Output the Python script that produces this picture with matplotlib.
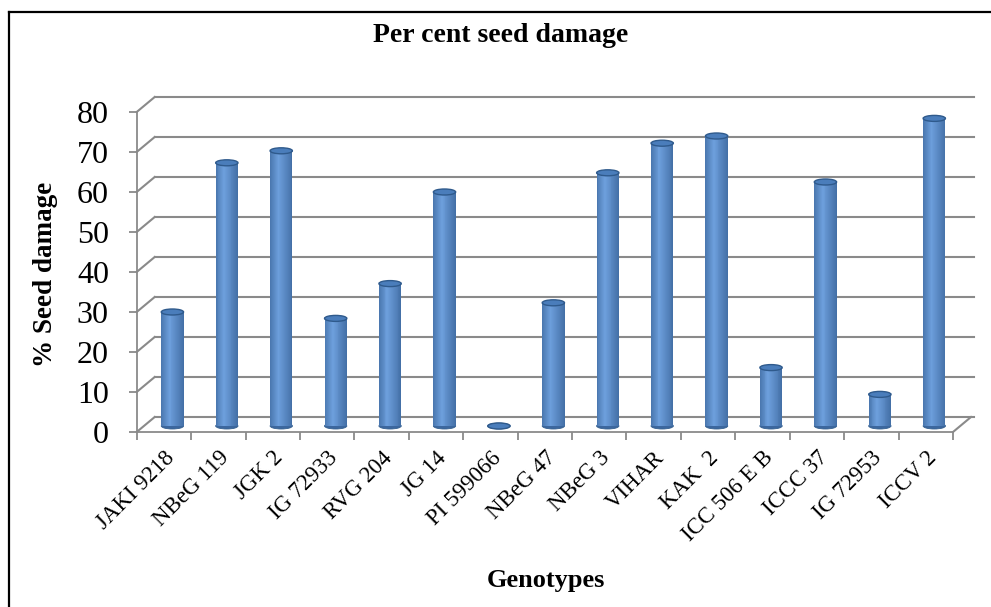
import numpy as np
import matplotlib
matplotlib.use('Agg')
import matplotlib.pyplot as plt
from matplotlib.patches import Ellipse
from matplotlib.lines import Line2D
from matplotlib.transforms import offset_copy

plt.rcParams['font.family'] = ['Liberation Serif', 'DejaVu Serif']

genotypes = ['JAKI 9218', 'NBeG 119', 'JGK 2', 'IG 72933', 'RVG 204', 'JG 14',
             'PI 599066', 'NBeG 47', 'NBeG 3', 'VIHAR', 'KAK  2', 'ICC 506 E B',
             'ICCC 37', 'IG 72953', 'ICCV 2']
damage = [28.5, 65.8, 68.8, 26.9, 35.6, 58.5, 0.0, 30.8, 63.3, 70.7, 72.5,
          14.6, 61.0, 7.9, 76.9]
yticks = list(range(0, 90, 10))

grid_col = '#8a8a8a'
W, H = 991, 607
fig = plt.figure(figsize=(W / 100, H / 100), dpi=100)
ax = fig.add_axes([136.7 / W, 1 - 432 / H, (953 - 136.7) / W, (432 - 112) / H])
n = len(genotypes)
ax.set_xlim(-0.5, n - 0.5)
ax.set_ylim(0, 80)
ax.patch.set_visible(False)
for s in ['top', 'right']:
    ax.spines[s].set_visible(False)
for s in ['left', 'bottom']:
    ax.spines[s].set_color(grid_col)
    ax.spines[s].set_linewidth(1.3)

# depth offsets (pixels) for back wall and bars
dx, dy = 18, 15
back = offset_copy(ax.transData, fig=fig, x=dx, y=dy, units='dots')
mid = offset_copy(ax.transData, fig=fig, x=8.5, y=6, units='dots')
px_x = (953 - 136.7) / n
px_y = 320 / 80.0

# back wall grid + left wall diagonals
for v in yticks:
    ax.plot([-0.5, n - 0.5 + 0.05], [v, v], color=grid_col, lw=1.5, transform=back,
            clip_on=False, zorder=1)
    ax.plot([-0.5, -0.5 + dx / px_x], [v, v + dy / px_y], color=grid_col, lw=1.5,
            clip_on=False, zorder=1)
# floor right edge
ax.plot([n - 0.5, n - 0.5 + dx / px_x], [0, dy / px_y], color=grid_col, lw=1.5,
        clip_on=False, zorder=1)

# cylinders
bw = 0.41
nstrip = 24
shade = np.concatenate([np.linspace(0.5, 1.0, 9), np.linspace(1.0, 0.4, nstrip - 9)])
light = np.array([0x6C, 0x9E, 0xDB]) / 255.0
dark = np.array([0x2A, 0x52, 0x85]) / 255.0
for i, v in enumerate(damage):
    eh = 6 / px_y
    ax.add_patch(Ellipse((i, 0), bw, eh, transform=mid, facecolor='#3C679E',
                         edgecolor='#35608F', lw=0.6, zorder=2, clip_on=False))
    if v > 0:
        for k in range(nstrip):
            col = dark + (light - dark) * shade[k]
            x0 = i - bw / 2 + k * bw / nstrip
            ax.bar(x0, v, width=bw / nstrip * 1.05, align='edge', color=col,
                   linewidth=0, transform=mid, zorder=3, clip_on=False)
    ax.add_patch(Ellipse((i, v), bw, eh, transform=mid, facecolor='#4A7DBB',
                         edgecolor='#2F5A8C', lw=1.0, zorder=4, clip_on=False))

# axes ticks
ax.set_yticks(yticks)
ax.tick_params(axis='y', length=6, width=1.3, color=grid_col, pad=14,
               labelsize=23, labelcolor='black')
ax.set_xticks(np.arange(n + 1) - 0.5)
ax.set_xticklabels([])
ax.tick_params(axis='x', which='major', length=6, width=1.3, color=grid_col)
ax.set_xticks(np.arange(n), minor=True)
ax.set_xticklabels(genotypes, minor=True, rotation=45, ha='right',
                   rotation_mode='anchor', fontsize=16.5)
ax.tick_params(axis='x', which='minor', length=0, pad=11)
for lab in ax.get_xticklabels(minor=True):
    lab.set_x(lab.get_position()[0])

fig.text(501 / W, 1 - 35 / H, 'Per cent seed damage', ha='center', va='center',
         fontsize=20, fontweight='bold')
fig.text(46 / W, 1 - 274 / H, '% Seed damage', ha='center', va='center',
         rotation=90, fontsize=19.5, fontweight='bold')
fig.text(546 / W, 1 - 580 / H, 'Genotypes', ha='center', va='center',
         fontsize=19, fontweight='bold')

# frame
fig.add_artist(Line2D([9 / W, 9 / W], [0, 1 - 12 / H], color='black', lw=1.6,
                      transform=fig.transFigure))
fig.add_artist(Line2D([9 / W, 1], [1 - 12 / H, 1 - 12 / H], color='black', lw=1.6,
                      transform=fig.transFigure))

fig.savefig('out.png', dpi=100)
